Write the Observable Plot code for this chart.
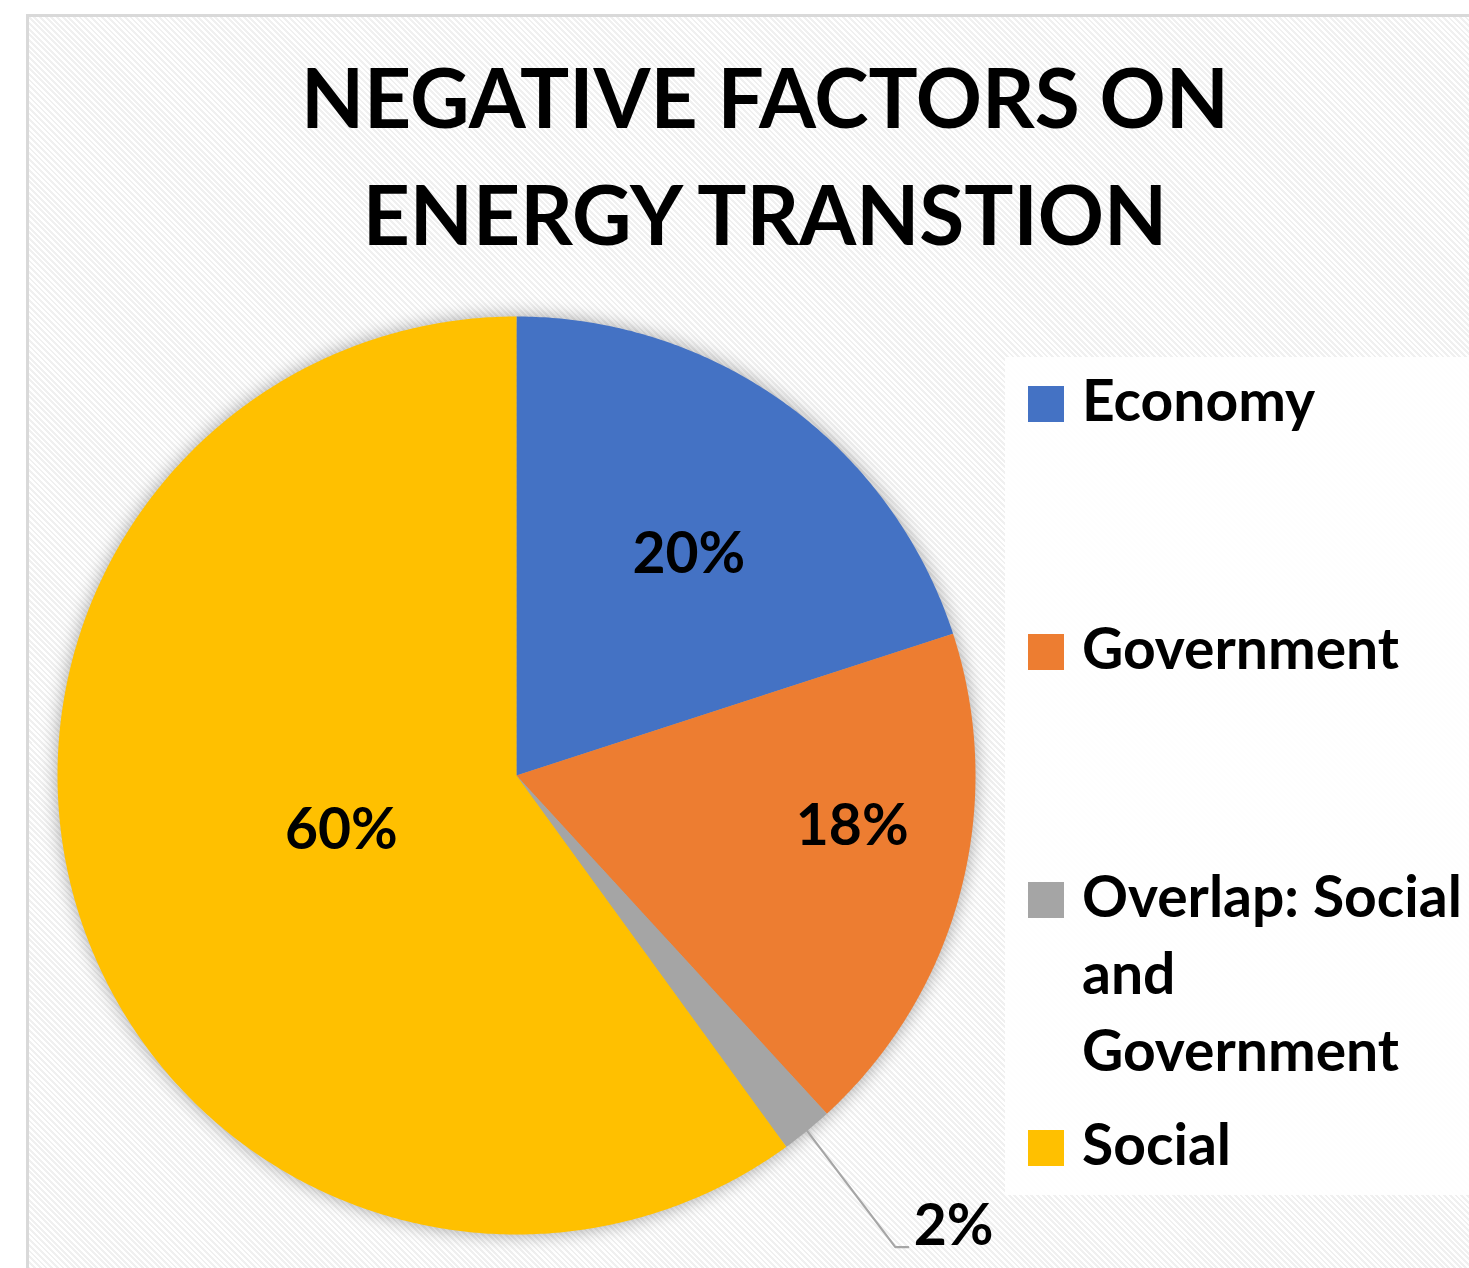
<!DOCTYPE html>
<html>
<head>
<meta charset="utf-8">
<script src="https://cdn.jsdelivr.net/npm/d3@7"></script>
<script src="https://cdn.jsdelivr.net/npm/@observablehq/plot@0.6"></script>
<style>
  html, body { margin: 0; padding: 0; width: 1469px; height: 1268px; overflow: hidden; background: #ffffff; font-family: Lato, "Open Sans", sans-serif; }
  #frame { position: absolute; left: 26px; top: 14px; width: 1500px; height: 1300px; border-left: 3px solid #d9d9d9; border-top: 3px solid #d9d9d9;
    background: repeating-linear-gradient(45deg, #ffffff 0px, #ffffff 2px, #f0f0f0 2px, #f0f0f0 4px); }
  #title { position: absolute; left: 0; top: 38px; width: 1530px; text-align: center; font-weight: 700; font-size: 82px; line-height: 117px; color: #000; }
  #legendbox { position: absolute; left: 1005px; top: 357px; width: 500px; height: 838px; background: rgba(255,255,255,0.88); }
  .lg-sw { position: absolute; width: 36px; height: 36px; }
  .lg-tx { position: absolute; font-weight: 700; font-size: 57px; line-height: 77px; color: #000; white-space: nowrap; }
  #chart { position: absolute; left: 0; top: 0; }
</style>
</head>
<body>
<div id="frame"></div>
<div id="legendbox"></div>
<div id="title">NEGATIVE FACTORS ON<br>ENERGY TRANSTION</div>
<div id="legend"></div>
<div id="chart"></div>
<script>
// ---- data ----
const categories = ["Economy", "Government", "Overlap: Social and Government", "Social"];
const legendLines = [["Economy"], ["Government"], ["Overlap: Social", "and", "Government"], ["Social"]];
const counts = [11, 10, 1, 33];
const percentLabels = ["20%", "18%", "2%", "60%"];
const colors = ["#4472C4", "#ED7D31", "#A5A5A5", "#FFC000"];

// ---- build slices (angles clockwise from 12 o'clock) ----
const total = d3.sum(counts);
let acc = 0;
const slices = categories.map((c, i) => {
  const a0 = acc / total * 360;
  acc += counts[i];
  const a1 = acc / total * 360;
  return {cat: c, a0, a1, mid: (a0 + a1) / 2, label: percentLabels[i]};
});
const rad = (deg) => deg * Math.PI / 180;
const polar = (deg, r) => ({x: r * Math.sin(rad(deg)), y: r * Math.cos(rad(deg))});

const sliceRows = [];
for (const s of slices) {
  sliceRows.push({cat: s.cat, x: 0, y: 0});
  const n = Math.max(4, Math.ceil((s.a1 - s.a0) / 0.5));
  for (let k = 0; k <= n; k++) {
    const p = polar(s.a0 + (s.a1 - s.a0) * k / n, 1);
    sliceRows.push({cat: s.cat, x: p.x, y: p.y});
  }
  sliceRows.push({cat: s.cat, x: 0, y: 0});
}

// label placement (inside labels, best-fit style)
const inside = {"Economy": [2, 0.61], "Government": [-6, 0.74], "Social": [0.5, 0.40]};
const insideLabels = slices.filter(s => inside[s.cat]).map(s => {
  const [da, r] = inside[s.cat];
  return {...polar(s.mid + da, r), label: s.label};
});
const small = slices.find(s => s.cat.startsWith("Overlap"));
const pEdge = polar(small.mid, 1.0);
const pElbow = polar(small.mid + 0.5, 1.318);
const leader = [pEdge, pElbow, {x: pElbow.x + 0.028, y: pElbow.y}];
const outsideLabel = [{x: pElbow.x + 0.04, y: pElbow.y, label: small.label}];

const chart = Plot.plot({
  width: 1469,
  height: 1268,
  margin: 0,
  x: {domain: [-1, 1], range: [57, 975], axis: null},
  y: {domain: [-1, 1], range: [1234, 316], axis: null},
  color: {domain: categories, range: colors},
  style: {background: "transparent", fontFamily: "Lato, 'Open Sans', sans-serif", overflow: "visible"},
  marks: [
    Plot.line(sliceRows, {x: "x", y: "y", z: "cat", fill: "cat", stroke: "none", curve: "linear"}),
    Plot.line(leader, {x: "x", y: "y", stroke: "#a6a6a6", strokeWidth: 2.2}),
    Plot.text(insideLabels, {x: "x", y: "y", text: "label", fontSize: 57, fontWeight: 700, fill: "#000"}),
    Plot.text(outsideLabel, {x: "x", y: "y", text: "label", fontSize: 57, fontWeight: 700, fill: "#000", textAnchor: "start", dy: -20})
  ]
});
const pieGroup = chart.querySelector('g[aria-label="line"]');
if (pieGroup) pieGroup.style.filter = "drop-shadow(0px 0px 9px rgba(0,0,0,0.35))";
document.getElementById("chart").appendChild(chart);

// ---- legend ----
const legend = document.getElementById("legend");
categories.forEach((c, i) => {
  const top = 386 + i * 248;
  const sw = document.createElement("div");
  sw.className = "lg-sw";
  sw.style.left = "1028px";
  sw.style.top = top + "px";
  sw.style.background = colors[i];
  legend.appendChild(sw);
  const tx = document.createElement("div");
  tx.className = "lg-tx";
  tx.style.left = "1082px";
  tx.style.top = (top - 25) + "px";
  tx.innerHTML = legendLines[i].join("<br>");
  legend.appendChild(tx);
});
</script>
</body>
</html>
